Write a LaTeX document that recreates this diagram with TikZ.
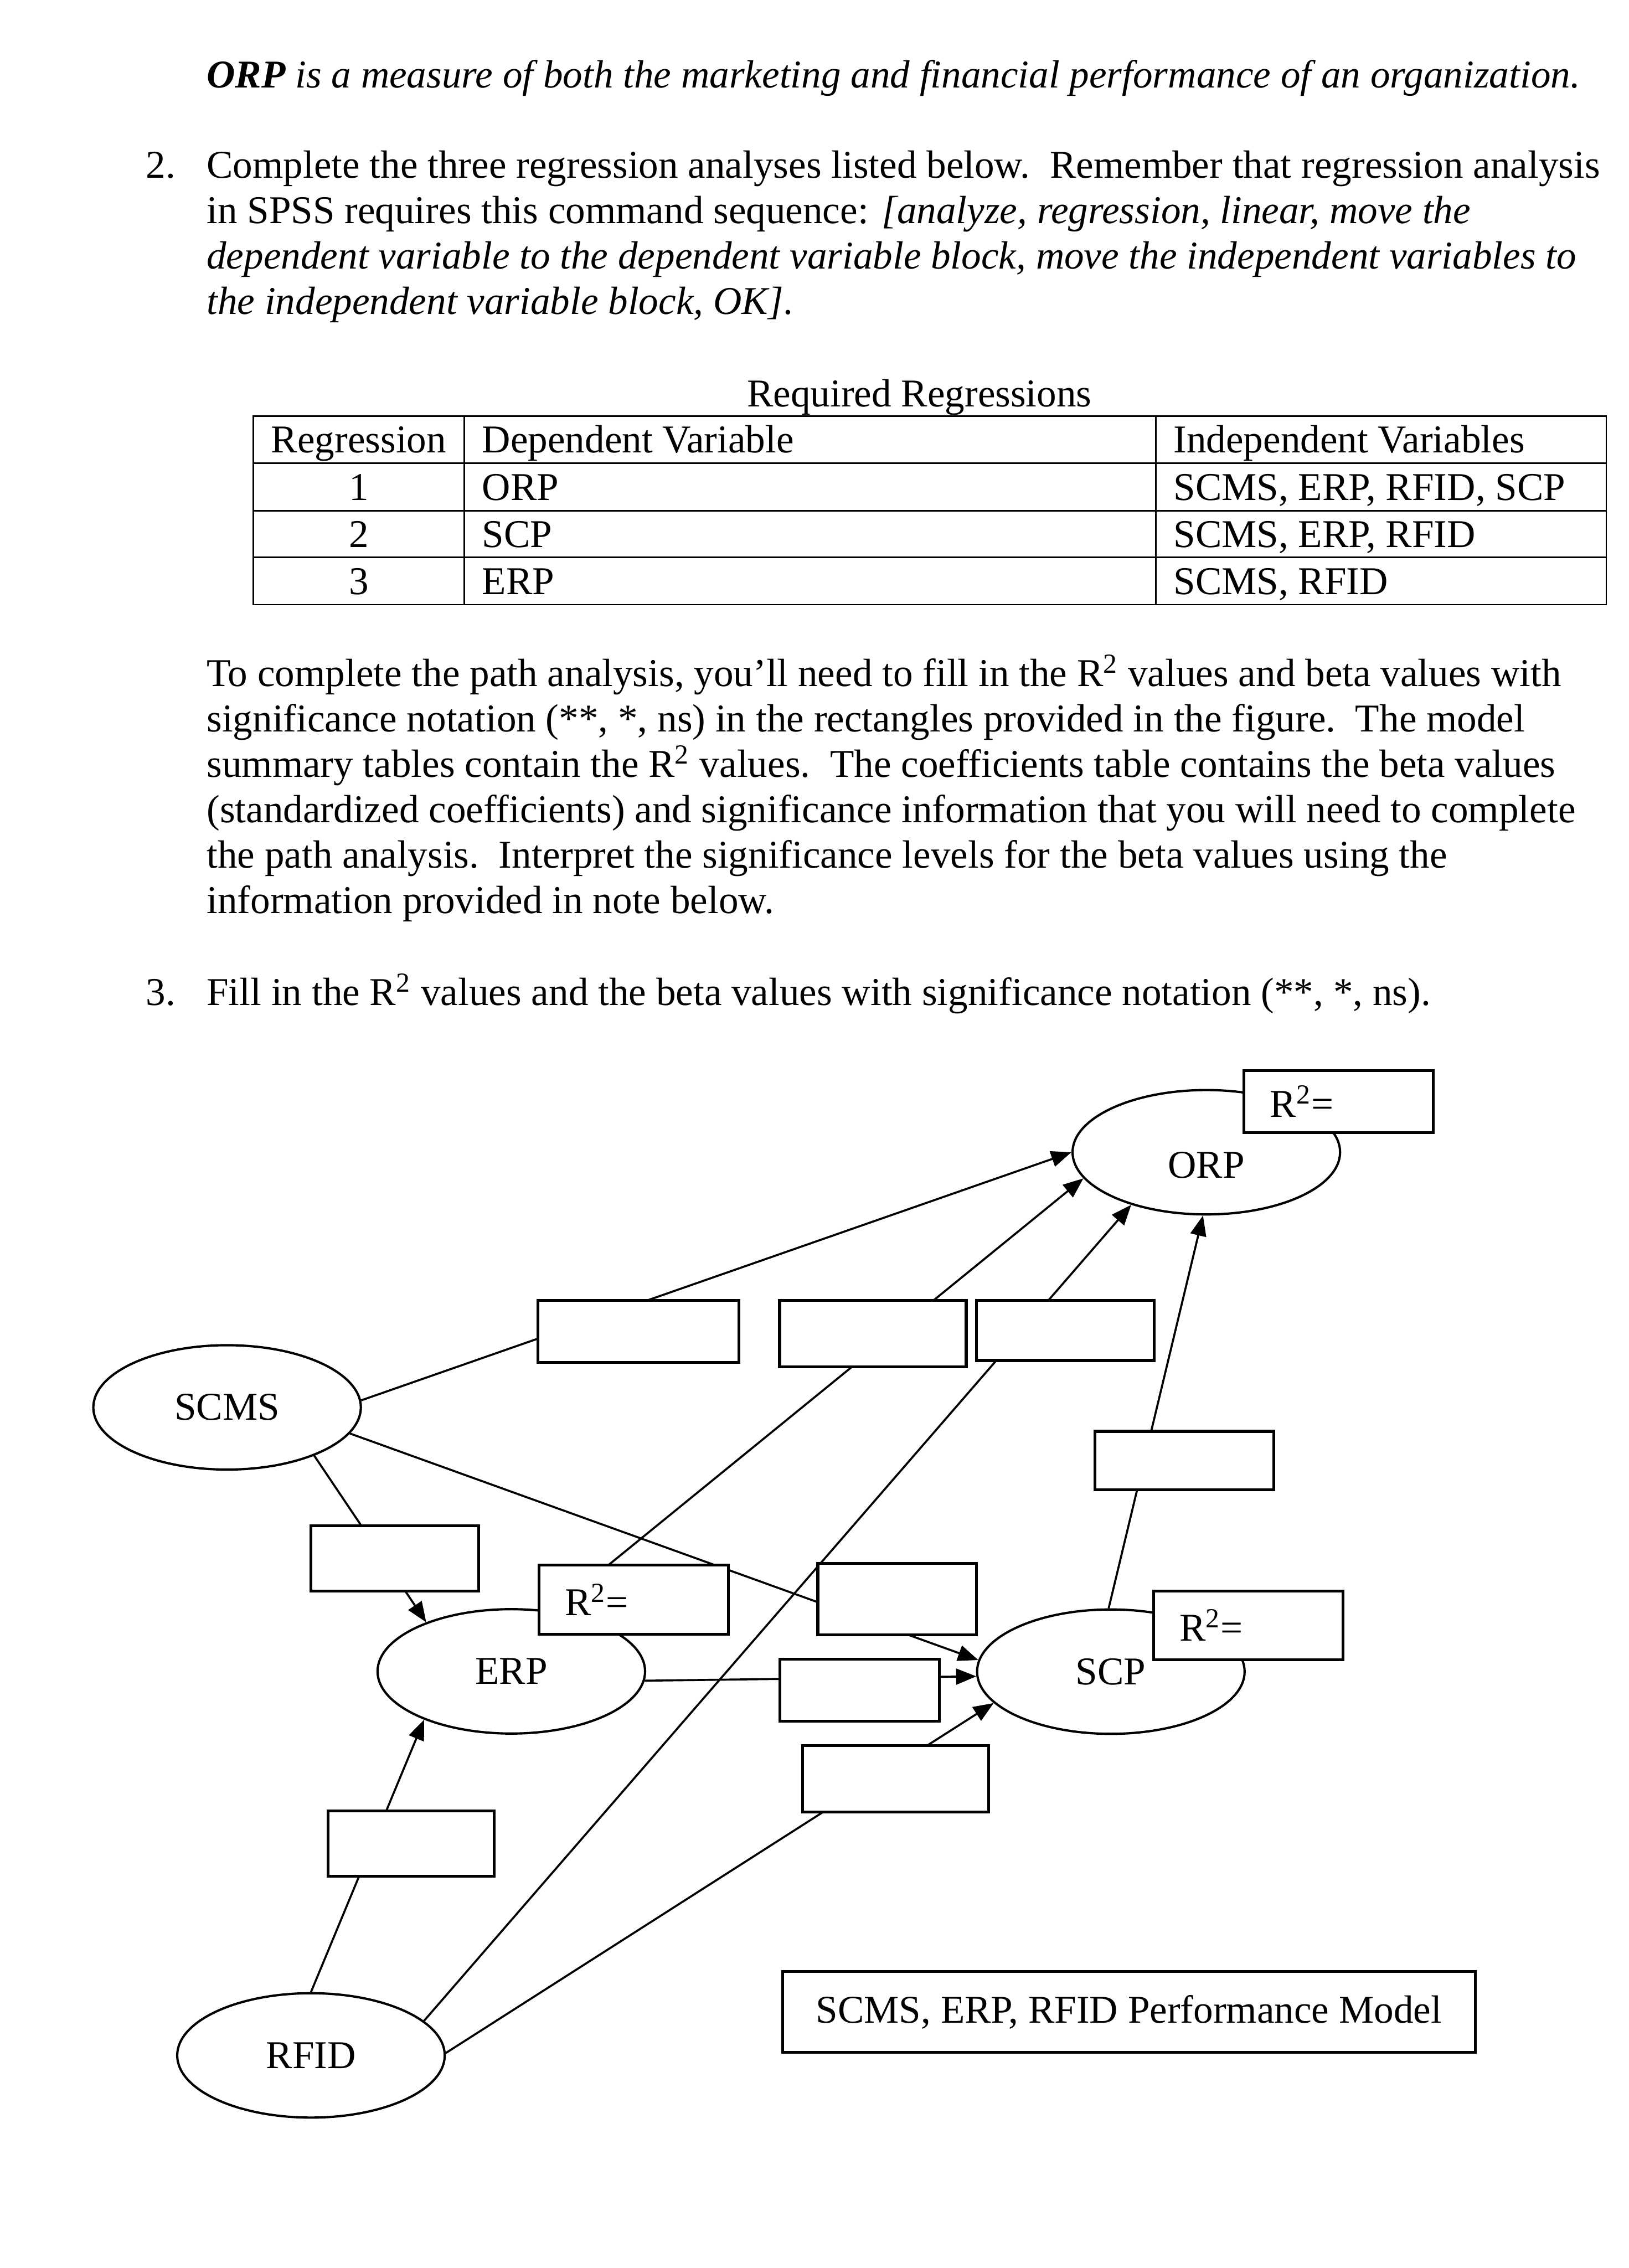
\documentclass[tikz,border=0pt]{standalone}
\usepackage{fontspec}
\setmainfont{Liberation Serif}
\usetikzlibrary{arrows.meta, shapes.geometric}

\begin{document}
\begin{tikzpicture}[
  x=0.02cm, y=-0.02cm,
  every node/.style={font=\fontsize{15.5}{17.8}\selectfont, inner sep=0pt},
  line/.style={anchor=base west},
  var/.style={draw, ellipse, line width=0.9pt, fill=white,
              minimum width=3.7cm, minimum height=1.72cm},
  slot/.style 2 args={draw, rectangle, fill=white, line width=1.1pt,
              minimum width=#1*0.02cm, minimum height=#2*0.02cm},
  rsq/.style={slot={131}{#1}, text width=1.9cm, align=left, inner xsep=0.36cm},
  arr/.style={-{Triangle[length=0.28cm, width=0.22cm]}, line width=0.8pt},
  grid/.style={line width=0.6pt},
]
  \useasboundingbox (0,0) rectangle (1126,1568);

  \node[line] (intro) at (142.6,60.7)
    {\textit{\textbf{ORP} is a measure of both the marketing and financial performance of an organization.}};

  \node[line] (num2) at (100.7,122.9) {2.};
  \node[line] (s2a) at (142.6,122.9) {Complete the three regression analyses listed below.\ \ Remember that regression analysis};
  \node[line] (s2b) at (142.6,154.3) {in SPSS requires this command sequence: \textit{[analyze, regression, linear, move the}};
  \node[line] (s2c) at (142.6,185.7) {\textit{dependent variable to the dependent variable block, move the independent variables to}};
  \node[line] (s2d) at (142.6,217.1) {\textit{the independent variable block, OK]}.};

  \node[anchor=base] (tabtitle) at (635.6,281) {Required Regressions};
  \draw[grid] (175,287.7) rectangle (1110.5,418);
  \foreach \y in {320.2,353.1,385.3}
    \draw[grid] (175,\y) -- (1110.5,\y);
  \foreach \x in {321,799}
    \draw[grid] (\x,287.7) -- (\x,418);
  \node[anchor=base] (hreg) at (248,313.1) {Regression};
  \node[line] (hdep) at (333,313.1) {Dependent Variable};
  \node[line] (hind) at (811,313.1) {Independent Variables};
  \foreach \n/\dv/\iv in {1/ORP/{SCMS, ERP, RFID, SCP}, 2/SCP/{SCMS, ERP, RFID}, 3/ERP/{SCMS, RFID}} {
    \node[anchor=base] (reg\n) at (248,313.1+32.6*\n) {\n};
    \node[line] (dep\n) at (333,313.1+32.6*\n) {\dv};
    \node[line] (ind\n) at (811,313.1+32.6*\n) {\iv};
  }

  \node[line] (p1) at (142.6,474.5) {To complete the path analysis, you’ll need to fill in the R\textsuperscript{2} values and beta values with};
  \node[line] (p2) at (142.6,505.9) {significance notation (**, *, ns) in the rectangles provided in the figure.\ \ The model};
  \node[line] (p3) at (142.6,537.3) {summary tables contain the R\textsuperscript{2} values.\ \ The coefficients table contains the beta values};
  \node[line] (p4) at (142.6,568.7) {(standardized coefficients) and significance information that you will need to complete};
  \node[line] (p5) at (142.6,600.1) {the path analysis.\ \ Interpret the significance levels for the beta values using the};
  \node[line] (p6) at (142.6,631.5) {information provided in note below.};

  \node[line] (num3) at (100.7,695) {3.};
  \node[line] (s3) at (142.6,695) {Fill in the R\textsuperscript{2} values and the beta values with significance notation (**, *, ns).};

  \node[var, text height=0.72cm] (orp) at (834,796.6) {ORP};
  \node[var] (scms) at (157,973) {SCMS};
  \node[var] (erp)  at (353.5,1155.5) {ERP};
  \node[var] (scp)  at (768,1155.7) {SCP};
  \node[var] (rfid) at (215,1421) {RFID};

  \draw[arr] (scms.3) -- (orp.180);
  \draw[arr] (scms.331) -- (erp.150);
  \draw[arr] (scms.348.7) -- (scp.175.5);
  \draw[arr] (erp.356.3) -- (scp.182.2);
  \draw[arr] (erp.56.8) -- (orp.192.6);
  \draw[arr] (rfid.17.1) -- (orp.215.1);
  \draw[arr] (rfid.north) -- (erp.209.6);
  \draw[arr] (rfid.1.5) -- (scp.195);
  \draw[arr] (scp.92.7) -- (orp.267.6);

  \node[slot={139}{43}]     (scmsorp) at (441.5,920.5) {};
  \node[slot={129}{46}]     (erporp)  at (603.5,922) {};
  \node[slot={123}{41.5}]   (rfidorp) at (736.5,919.8) {};
  \node[slot={123.6}{40.3}] (scporp)  at (818.8,1009.7) {};
  \node[slot={116}{45}]     (scmserp) at (273,1077.5) {};
  \node[slot={109.6}{49.6}] (scmsscp) at (620.2,1105.5) {};
  \node[slot={110.2}{42.9}] (erpscp)  at (594.4,1168.4) {};
  \node[slot={128.6}{46}]   (rfidscp) at (619.3,1229.7) {};
  \node[slot={115}{45}]     (rfiderp) at (284.3,1274.5) {};

  \node[rsq=43]   (orpr2) at (925.5,761.5) {R\textsuperscript{2}=};
  \node[rsq=48]   (erpr2) at (438,1106) {R\textsuperscript{2}=};
  \node[rsq=47.4] (scpr2) at (863,1123.7) {R\textsuperscript{2}=};

  \node[slot={479}{56}] (model) at (780.5,1391) {SCMS, ERP, RFID Performance Model};
\end{tikzpicture}
\end{document}
